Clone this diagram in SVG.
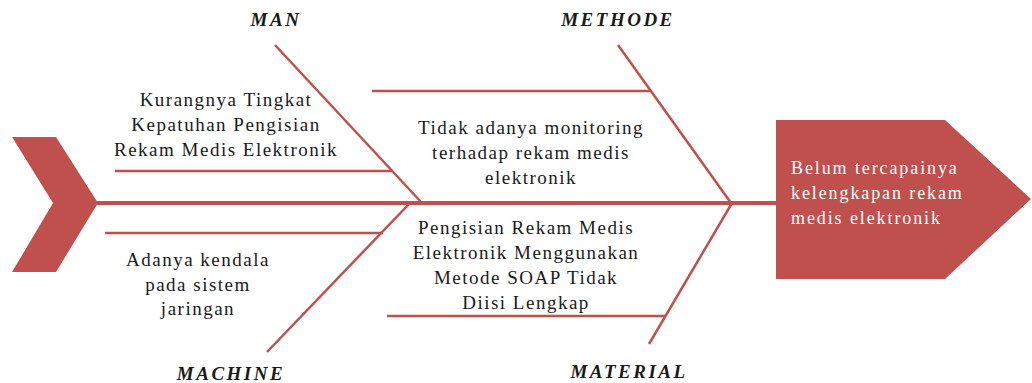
<svg xmlns="http://www.w3.org/2000/svg" width="1032" height="383" viewBox="0 0 1032 383">
<style>
.bone{stroke:#C0504D;stroke-width:2.5;fill:none;stroke-linecap:butt}
.spine{stroke:#C0504D;stroke-width:4;fill:none}
.shape{fill:#C0504D;stroke:none}
.t{font-family:"Liberation Serif","Times New Roman",serif;font-size:19px;letter-spacing:1.5px;fill:#1a1a1a;text-anchor:middle}
.h{font-family:"Liberation Serif","Times New Roman",serif;font-size:19px;font-weight:bold;font-style:italic;letter-spacing:2.5px;fill:#1a1a1a;text-anchor:middle}
.w{font-family:"Liberation Serif","Times New Roman",serif;font-size:18px;letter-spacing:1.9px;fill:#ffffff}
</style>
<g id="connectors">
<line class="spine" x1="95" y1="203" x2="777" y2="203"/>
<line class="bone" x1="275" y1="45" x2="422" y2="203"/>
<line class="bone" x1="115" y1="171" x2="392" y2="171"/>
<line class="bone" x1="618" y1="45" x2="731" y2="203"/>
<line class="bone" x1="372" y1="91" x2="650" y2="91"/>
<line class="bone" x1="267" y1="352" x2="410" y2="203"/>
<line class="bone" x1="105" y1="233" x2="383" y2="233"/>
<line class="bone" x1="649" y1="344" x2="732" y2="203"/>
<line class="bone" x1="387" y1="316" x2="665" y2="316"/>
</g>
<g id="tail">
<polygon class="shape" points="12,137 56,137 98,203 56,272 12,272 53,203"/>
</g>
<g id="head">
<polygon class="shape" stroke="#C0504D" stroke-width="2" stroke-linejoin="round" points="776,120 945,120 1031,199 945,279 776,279"/>
<text class="w" x="791" y="174">Belum tercapainya</text>
<text class="w" x="791" y="199">kelengkapan rekam</text>
<text class="w" x="791" y="224">medis elektronik</text>
</g>
<g id="man">
<text class="h" x="276" y="26">MAN</text>
<text class="t" x="226" y="106">Kurangnya Tingkat</text>
<text class="t" x="226" y="131">Kepatuhan Pengisian</text>
<text class="t" x="226" y="156">Rekam Medis Elektronik</text>
</g>
<g id="methode">
<text class="h" x="618" y="26">METHODE</text>
<text class="t" x="531" y="134">Tidak adanya monitoring</text>
<text class="t" x="531" y="159">terhadap rekam medis</text>
<text class="t" x="531" y="184">elektronik</text>
</g>
<g id="machine">
<text class="h" x="231" y="380">MACHINE</text>
<text class="t" x="198" y="266">Adanya kendala</text>
<text class="t" x="198" y="291">pada sistem</text>
<text class="t" x="198" y="315">jaringan</text>
</g>
<g id="material">
<text class="h" x="629" y="378">MATERIAL</text>
<text class="t" x="526" y="234">Pengisian Rekam Medis</text>
<text class="t" x="526" y="259">Elektronik Menggunakan</text>
<text class="t" x="526" y="284">Metode SOAP Tidak</text>
<text class="t" x="526" y="309">Diisi Lengkap</text>
</g>
</svg>
